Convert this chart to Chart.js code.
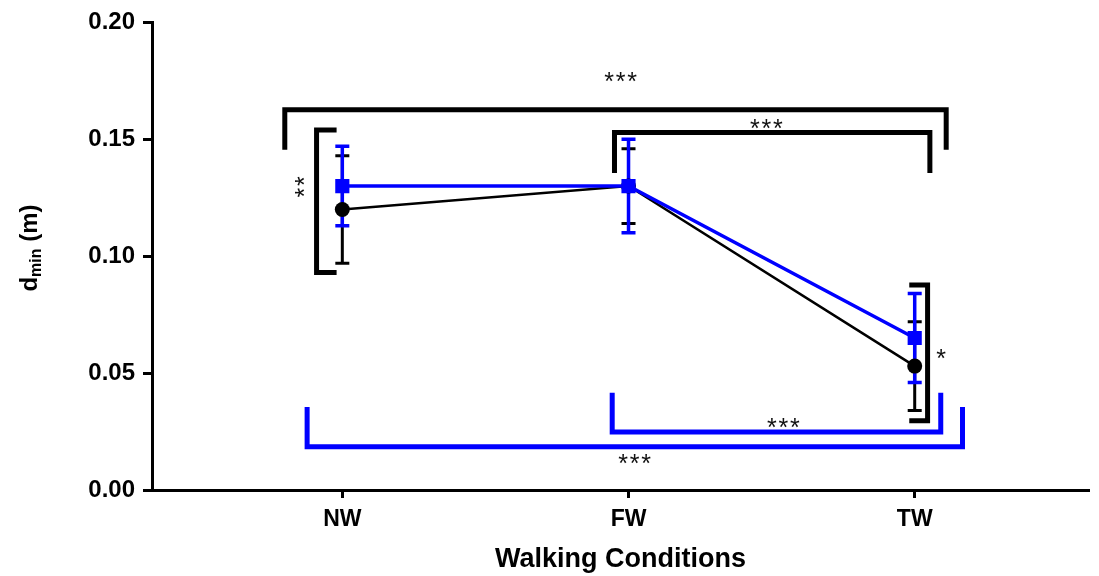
<!DOCTYPE html>
<html><head><meta charset="utf-8">
<script src="https://cdn.jsdelivr.net/npm/chart.js@4.4.1/dist/chart.umd.min.js"></script>
<style>html,body{margin:0;padding:0;background:#fff}#wrap{width:1099px;height:576px;position:relative}</style>
</head><body><div id="wrap"><canvas id="c"></canvas></div>
<script>
const categories = ['NW', 'FW', 'TW'];
const blackMean = [0.120, 0.130, 0.053];
const blackErr  = [0.023, 0.016, 0.019];
const blueMean  = [0.130, 0.130, 0.065];
const blueErr   = [0.017, 0.020, 0.019];
const yTickValues = [0, 0.05, 0.10, 0.15, 0.20];

// significance brackets as polylines in data units (x = category index, y = metres)
const blackBrackets = [
  [[-0.201, 0.1455], [-0.201, 0.1626], [2.110, 0.1626], [2.110, 0.1455]],
  [[0.951, 0.1356], [0.951, 0.1529], [2.053, 0.1529], [2.053, 0.1356]],
  [[-0.020, 0.154], [-0.090, 0.154], [-0.090, 0.093], [-0.020, 0.093]],
  [[1.981, 0.0877], [2.045, 0.0877], [2.045, 0.0296], [1.981, 0.0296]]
];
const blueBrackets = [
  [[0.943, 0.0416], [0.943, 0.0248], [2.091, 0.0248], [2.091, 0.0416]],
  [[-0.123, 0.0355], [-0.123, 0.0185], [2.167, 0.0185], [2.167, 0.0355]]
];
const sigLabels = [
  { text: '***', x: 0.972, y: 0.1775, rot: 0 },
  { text: '***', x: 1.482, y: 0.1571, rot: 0 },
  { text: '**',  x: -0.152, y: 0.1297, rot: -90 },
  { text: '*',   x: 2.092, y: 0.0586, rot: 0 },
  { text: '***', x: 1.541, y: 0.0291, rot: 0 },
  { text: '***', x: 1.021, y: 0.0141, rot: 0 }
];

const FONT = "'Liberation Sans', Arial, sans-serif";

const errorBarPlugin = {
  id: 'errorBars',
  beforeDatasetsDraw(chart) {
    const ctx = chart.ctx, xs = chart.scales.x, ys = chart.scales.y;
    const sets = [
      { mean: blackMean, err: blackErr, color: '#000000', w: 3 },
      { mean: blueMean, err: blueErr, color: '#0000ff', w: 3.5 }
    ];
    ctx.save();
    sets.forEach(s => {
      ctx.strokeStyle = s.color;
      ctx.lineWidth = s.w;
      s.mean.forEach((m, i) => {
        const x = xs.getPixelForValue(i);
        const yt = ys.getPixelForValue(m + s.err[i]);
        const yb = ys.getPixelForValue(m - s.err[i]);
        ctx.beginPath();
        ctx.moveTo(x, yt); ctx.lineTo(x, yb);
        ctx.moveTo(x - 7, yt); ctx.lineTo(x + 7, yt);
        ctx.moveTo(x - 7, yb); ctx.lineTo(x + 7, yb);
        ctx.stroke();
      });
    });
    ctx.restore();
  }
};

const annotationPlugin = {
  id: 'sigAnnotations',
  afterDatasetsDraw(chart) {
    const ctx = chart.ctx, xs = chart.scales.x, ys = chart.scales.y;
    ctx.save();
    ctx.lineWidth = 5;
    ctx.lineJoin = 'miter';
    ctx.lineCap = 'butt';
    const drawSet = (list, color) => {
      ctx.strokeStyle = color;
      list.forEach(poly => {
        ctx.beginPath();
        poly.forEach((p, k) => {
          const px = xs.getPixelForValue(p[0]), py = ys.getPixelForValue(p[1]);
          if (k === 0) ctx.moveTo(px, py); else ctx.lineTo(px, py);
        });
        ctx.stroke();
      });
    };
    drawSet(blackBrackets, '#000000');
    drawSet(blueBrackets, '#0000ff');
    const fs = 25, step = 11.5;
    ctx.fillStyle = '#111';
    ctx.font = fs + 'px ' + FONT;
    ctx.textAlign = 'center';
    ctx.textBaseline = 'alphabetic';
    sigLabels.forEach(l => {
      const px = xs.getPixelForValue(l.x), py = ys.getPixelForValue(l.y);
      ctx.save();
      ctx.translate(px, py);
      ctx.rotate(l.rot * Math.PI / 180);
      const n = l.text.length;
      for (let k = 0; k < n; k++) {
        const off = (k - (n - 1) / 2) * step;
        ctx.fillText(l.text[k], off, 0.58 * fs);
      }
      ctx.restore();
    });
    ctx.restore();
  }
};

const yTitlePlugin = {
  id: 'yTitle',
  afterDraw(chart) {
    const ctx = chart.ctx;
    ctx.save();
    ctx.translate(37, 248);
    ctx.rotate(-Math.PI / 2);
    ctx.fillStyle = '#000';
    ctx.textBaseline = 'alphabetic';
    ctx.textAlign = 'left';
    const big = 'bold 24px ' + FONT, small = 'bold 16px ' + FONT;
    ctx.font = big; const wd = ctx.measureText('d').width;
    ctx.font = small; const wm = ctx.measureText('min').width;
    ctx.font = big; const wr = ctx.measureText(' (m)').width;
    let x = -(wd + wm + wr) / 2;
    ctx.font = big; ctx.fillText('d', x, 0); x += wd;
    ctx.font = small; ctx.fillText('min', x, 4); x += wm;
    ctx.font = big; ctx.fillText(' (m)', x, 0);
    ctx.restore();
  }
};

new Chart(document.getElementById('c'), {
  type: 'line',
  data: {
    datasets: [
      {
        label: 'blue',
        data: blueMean.map((v, i) => ({ x: i, y: v })),
        borderColor: '#0000ff', backgroundColor: '#0000ff',
        borderWidth: 3.5, pointStyle: 'rect', pointRadius: 10, pointBorderWidth: 0,
        tension: 0, fill: false
      },
      {
        label: 'black',
        data: blackMean.map((v, i) => ({ x: i, y: v })),
        borderColor: '#000000', backgroundColor: '#000000',
        borderWidth: 2.5, pointStyle: 'circle', pointRadius: 7.5, pointBorderWidth: 0,
        tension: 0, fill: false
      }
    ]
  },
  options: {
    responsive: true, maintainAspectRatio: false, animation: false,
    layout: { padding: { top: 22, right: 9, left: 0, bottom: 0 } },
    plugins: { legend: { display: false }, tooltip: { enabled: false } },
    scales: {
      x: {
        type: 'linear', min: -0.665, max: 2.609,
        afterFit(s) { s.height = 86; },
        afterBuildTicks(s) { s.ticks = categories.map((c, i) => ({ value: i })); },
        ticks: {
          callback: v => categories[v] ?? '',
          color: '#000', font: { family: FONT, size: 23, weight: 'bold' }, padding: 8,
          maxRotation: 0, autoSkip: false
        },
        grid: { display: true, drawOnChartArea: false, drawTicks: true, tickLength: 8, tickWidth: 3, tickColor: '#000', color: '#000' },
        border: { display: true, width: 3, color: '#000' },
        title: { display: true, text: 'Walking Conditions', color: '#000', font: { family: FONT, size: 27, weight: 'bold' }, padding: { top: 0, bottom: 0 } }
      },
      y: {
        type: 'linear', min: 0, max: 0.2,
        afterFit(s) { s.width = 152; },
        afterBuildTicks(s) { s.ticks = yTickValues.map(v => ({ value: v })); },
        ticks: {
          callback: v => Number(v).toFixed(2),
          color: '#000', font: { family: FONT, size: 24, weight: 'bold' }, padding: 8
        },
        grid: { display: true, drawOnChartArea: false, drawTicks: true, tickLength: 9, tickWidth: 3, tickColor: '#000', color: '#000' },
        border: { display: true, width: 3, color: '#000' }
      }
    }
  },
  plugins: [errorBarPlugin, annotationPlugin, yTitlePlugin]
});
</script>
</body></html>
